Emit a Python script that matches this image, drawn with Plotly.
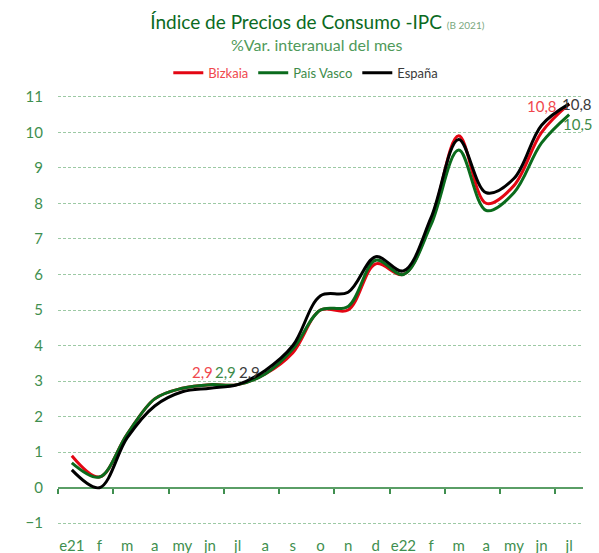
import plotly.graph_objects as go

months = ["e21", "f", "m", "a", "my", "jn", "jl", "a", "s", "o", "n", "d",
          "e22", "f", "m", "a", "my", "jn", "jl"]
bizkaia = [0.9, 0.3, 1.5, 2.5, 2.8, 2.9, 2.9, 3.2, 3.8, 5.0, 5.0, 6.3,
           6.0, 7.5, 9.9, 8.0, 8.5, 10.0, 10.8]
pais_vasco = [0.7, 0.3, 1.5, 2.5, 2.8, 2.9, 2.9, 3.2, 3.9, 5.0, 5.1, 6.4,
              6.0, 7.4, 9.5, 7.8, 8.3, 9.7, 10.5]
espana = [0.5, 0.0, 1.4, 2.3, 2.7, 2.8, 2.9, 3.3, 4.0, 5.4, 5.5, 6.5,
          6.1, 7.6, 9.8, 8.3, 8.7, 10.2, 10.8]
y_ticks = list(range(-1, 12))

FONT = "Lato"
GREEN_TXT = "#3f8f4f"
series = [
    ("Bizkaia", bizkaia, "#e30613", "#f0474d"),
    ("País Vasco", pais_vasco, "#0a6b1c", "#3d8b49"),
    ("España", espana, "#000000", "#3a3a3a"),
]

H = 553
T, B = 95.2, 28
PLOT_H = H - T - B

x = list(range(len(months)))
fig = go.Figure()
for name, vals, col, txtcol in series:
    fig.add_trace(go.Scatter(
        x=x, y=vals, mode="lines",
        name=f"<span style='color:{txtcol}'>{name}</span>",
        line=dict(color=col, width=3, shape="spline", smoothing=1),
        hoverinfo="skip",
    ))

# dummy trace to host the zero-line tick axis
fig.add_trace(go.Scatter(x=[None], y=[None], xaxis="x2", showlegend=False,
                         hoverinfo="skip"))

ymin, ymax = -1.05, 11.05

def fmt(v):
    return f"{v:.1f}".replace(".", ",")

# value labels
jl21 = 6
last = len(months) - 1
labels = [
    (jl21, bizkaia[jl21], "#f0474d", -35, 13),
    (jl21, pais_vasco[jl21], "#3d8b49", -12, 13),
    (jl21, espana[jl21], "#3a3a3a", 12, 13),
    (last, bizkaia[last], "#f0474d", -27, -2),
    (last, espana[last], "#3a3a3a", 8, 0),
    (last, pais_vasco[last], "#3d8b49", 9, -9),
]
for xi, v, c, xs, ys in labels:
    fig.add_annotation(x=xi, y=v, text=fmt(v), showarrow=False,
                       xshift=xs, yshift=ys,
                       font=dict(family=FONT, size=15, color=c))

fig.add_annotation(
    xref="paper", yref="paper", x=0.494, y=1 + (T - 45) / PLOT_H,
    yanchor="middle", text="%Var. interanual del mes", showarrow=False,
    font=dict(family=FONT, size=16, color="#4f9a5a"))

fig.update_layout(
    width=599, height=H,
    margin=dict(l=58, r=16, t=T, b=B, autoexpand=False),
    paper_bgcolor="white", plot_bgcolor="white",
    font=dict(family=FONT, color=GREEN_TXT),
    title=dict(
        text="Índice de Precios de Consumo -IPC "
             "<span style='font-size:10px;color:#7aa880'>(B 2021)</span>",
        x=0.494, xref="paper", xanchor="center",
        y=1 - 22 / H, yref="container", yanchor="middle",
        font=dict(family=FONT, size=19, color="#0b6a22"),
    ),
    legend=dict(orientation="h", x=0.472, xanchor="center",
                y=1 + (T - 73) / PLOT_H, yanchor="middle",
                font=dict(family=FONT, size=13), itemwidth=30,
                bgcolor="rgba(0,0,0,0)"),
    showlegend=True,
    xaxis=dict(range=[-0.5, len(months) - 0.5], tickmode="array",
               tickvals=x, ticktext=months, showgrid=False, zeroline=False,
               showline=False, ticks="", ticklabelstandoff=10,
               automargin=False,
               tickfont=dict(family=FONT, size=15, color=GREEN_TXT)),
    xaxis2=dict(overlaying="x", anchor="free",
                position=(0 - ymin) / (ymax - ymin),
                range=[-0.5, len(months) - 0.5], tickmode="array",
                tickvals=[i - 0.5 for i in range(0, len(months), 2)],
                ticks="outside", ticklen=5, tickwidth=1.5,
                tickcolor="#3f8f4f", showticklabels=False, automargin=False,
                showgrid=False, zeroline=False, showline=False),
    yaxis=dict(range=[ymin, ymax], tickmode="array", tickvals=y_ticks,
               showgrid=True, gridcolor="#9cc9a4", gridwidth=1,
               griddash="3px,2px", zeroline=True, zerolinecolor="#5a9e66",
               zerolinewidth=2, showline=False, ticks="",
               ticklabelstandoff=14, automargin=False,
               tickfont=dict(family=FONT, size=15, color=GREEN_TXT)),
)

fig.write_html("out.html", config={"displayModeBar": False},
               post_script="document.body.style.margin='0';")
